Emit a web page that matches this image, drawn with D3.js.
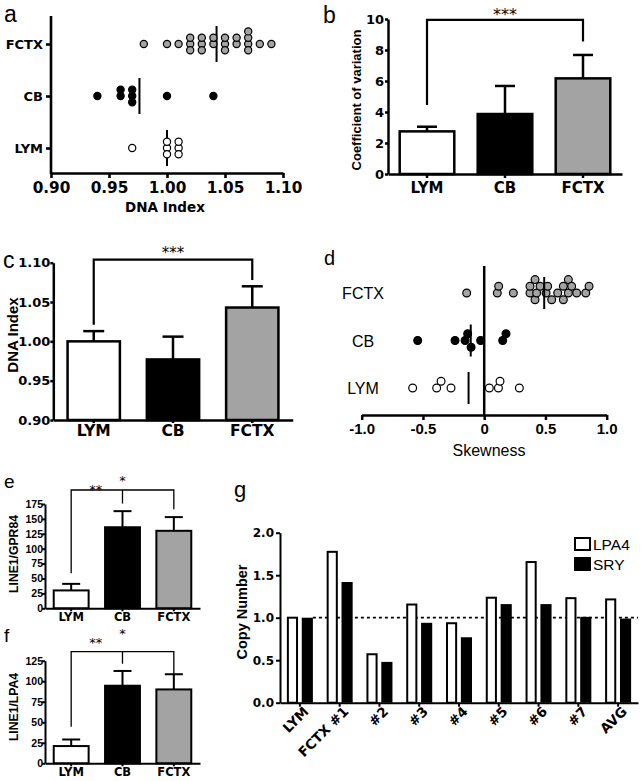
<!DOCTYPE html>
<html><head><meta charset="utf-8">
<script src="https://cdn.jsdelivr.net/npm/d3@7"></script>
<style>
body{margin:0;background:#fff}
svg{display:block}
</style></head><body>
<svg id="fig" width="642" height="781"></svg>
<script>
// ================= DATA =================
const groups = ["LYM", "CB", "FCTX"];
const groupFill = ["#ffffff", "#000000", "#a3a3a3"];

// a: DNA index per sample
const dnaIndexLYM = [0.97, 1.00, 1.00, 1.00, 1.01, 1.01, 1.01];
const dnaIndexCB = [0.94, 0.96, 0.96, 0.97, 0.97, 0.97, 1.00, 1.04];
const dnaIndexFCTX = [0.98, 1.00, 1.01, 1.02, 1.02, 1.02, 1.03, 1.03, 1.03, 1.04, 1.04,
  1.05, 1.05, 1.05, 1.06, 1.06, 1.07, 1.07, 1.07, 1.07, 1.08, 1.09];
const dnaTicks = [0.90, 0.95, 1.00, 1.05, 1.10];

// b: coefficient of variation (mean, upper error)
const cvMean = [2.75, 3.87, 6.17];
const cvUpper = [3.05, 5.68, 7.68];
const cvTicks = [0, 2, 4, 6, 8, 10];
const cvBracket = [9.95, 4.45, 8.55]; // top, left end, right end

// c: DNA index (mean, upper error)
const diMean = [1.000, 0.977, 1.043];
const diUpper = [1.013, 1.006, 1.070];
const diTicks = [0.90, 0.95, 1.00, 1.05, 1.10];
const diBracket = [1.104, 1.021, 1.078];

// d: skewness per sample
const skewLYM = [-0.584, -0.388, -0.352, -0.271, 0.042, 0.116, 0.129, 0.287];
const skewCB = [-0.543, -0.238, -0.156, -0.135, -0.107, -0.029, 0.151, 0.178];
const skewFCTX = [-0.143, 0.107, 0.118, 0.238, 0.374, 0.374, 0.415, 0.415, 0.428, 0.456, 0.505,
  0.518, 0.551, 0.600, 0.646, 0.646, 0.687, 0.687, 0.714, 0.755, 0.829, 0.856];
const skewTicks = [-1, -0.5, 0, 0.5, 1];

// e: LINE1/GPR84
const gprMean = [30, 136, 130];
const gprUpper = [41, 163, 153];
const gprTicks = [0, 25, 50, 75, 100, 125, 150, 175];
const gprBracket = [198.5, 58.7, 176, 166]; // top, left end, mid end, right end
const gprStars = [205, 220];

// f: LINE1/LPA4
const lpaMean = [21, 94.5, 90];
const lpaUpper = [29, 112.5, 108.5];
const lpaTicks = [0, 25, 50, 75, 100, 125];
const lpaBracket = [136, 44.6, 121.4, 108.8];
const lpaStars = [151, 162];

// g: copy number
const cnCategories = ["LYM", "FCTX #1", "#2", "#3", "#4", "#5", "#6", "#7", "AVG"];
const cnSeries = ["LPA4", "SRY"];
const cnLPA4 = [1.00, 1.775, 0.57, 1.155, 0.935, 1.235, 1.655, 1.23, 1.215];
const cnSRY = [1.00, 1.42, 0.48, 0.94, 0.77, 1.16, 1.16, 1.01, 0.99];
const cnTicks = [0, 0.5, 1.0, 1.5, 2.0];

// ================= DRAWING =================
const svg = d3.select("#fig");
const WIDE = "'DejaVu Sans', sans-serif";
const ARIAL = "'Liberation Sans', Arial, sans-serif";

function styleAxis(g, font, size, weight, sw) {
  g.attr("font-family", null).attr("font-size", null);
  g.select(".domain").attr("stroke", "#000").attr("stroke-width", sw);
  g.selectAll(".tick line").attr("stroke", "#000").attr("stroke-width", sw);
  g.selectAll(".tick text").attr("fill", "#000")
    .style("font-family", font).style("font-size", size + "px").style("font-weight", weight);
  return g;
}
function text(x, y, t, font, size, weight, anchor, rot) {
  const el = svg.append("text").attr("x", x).attr("y", y).text(t)
    .style("font-family", font).style("font-size", size + "px").style("font-weight", weight || "normal")
    .attr("text-anchor", anchor || "start").attr("fill", "#000");
  if (rot) el.attr("transform", `rotate(${rot},${x},${y})`);
  return el;
}
function line(x1, y1, x2, y2, sw, dash) {
  const l = svg.append("line").attr("x1", x1).attr("y1", y1).attr("x2", x2).attr("y2", y2)
    .attr("stroke", "#000").attr("stroke-width", sw);
  if (dash) l.attr("stroke-dasharray", dash);
  return l;
}
function swarm(values, xs, r, step, tol) {
  const placed = [];
  return values.map(v => {
    const px = xs(v);
    for (let k = 0; k < 50; k++) {
      const off = (k === 0 ? 0 : (k % 2 ? -Math.ceil(k / 2) : k / 2)) * step;
      if (!placed.some(p => Math.abs(p.x - px) < tol && Math.abs(p.y - off) < step * 0.5)) {
        placed.push({ x: px, y: off });
        return { v, x: px, dy: off };
      }
    }
  });
}
function barPanel(o) {
  const xs = d3.scaleBand().domain(groups).range(o.xr).paddingInner(o.pi).paddingOuter(o.po);
  const ys = d3.scaleLinear().domain(o.dom).range(o.yr);
  const base = o.yr[0];
  groups.forEach((g, i) => {
    const cx = xs(g) + xs.bandwidth() / 2;
    line(cx, ys(o.mean[i]), cx, ys(o.upper[i]), o.sw);
    line(cx - o.cap / 2, ys(o.upper[i]), cx + o.cap / 2, ys(o.upper[i]), o.sw);
  });
  svg.append("g").selectAll("rect").data(groups).join("rect")
    .attr("x", g => xs(g)).attr("width", xs.bandwidth())
    .attr("y", (g, i) => ys(o.mean[i])).attr("height", (g, i) => base - ys(o.mean[i]))
    .attr("fill", (g, i) => groupFill[i]).attr("stroke", "#000").attr("stroke-width", o.sw);
  const gy = svg.append("g").attr("transform", `translate(${o.xr[0]},0)`)
    .call(d3.axisLeft(ys).tickValues(o.ticks).tickFormat(o.fmt).tickSize(o.ytick[0]).tickPadding(o.ytick[1]).tickSizeOuter(0));
  styleAxis(gy, o.yfont[0], o.yfont[1], o.yfont[2], o.sw);
  const gx = svg.append("g").attr("transform", `translate(0,${base})`)
    .call(d3.axisBottom(xs).tickSize(o.xtick[0]).tickPadding(o.xtick[1]).tickSizeOuter(0));
  styleAxis(gx, WIDE, o.xfont, "bold", o.sw);
  return { xs, ys, c: g => xs(g) + xs.bandwidth() / 2 };
}

// ---------- panel a ----------
{
  const xs = d3.scaleLinear().domain([0.90, 1.10]).range([51, 283]);
  const ys = d3.scalePoint().domain(groups).range([148, 44]);
  const sets = [dnaIndexLYM, dnaIndexCB, dnaIndexFCTX];
  groups.forEach((g, i) => {
    const m = d3.mean(sets[i]);
    line(xs(m), ys(g) - 18, xs(m), ys(g) + 18, 2);
  });
  groups.forEach((g, i) => {
    const pts = swarm(sets[i], xs, 4, 6.3, 7);
    svg.append("g").selectAll("circle").data(pts).join("circle")
      .attr("cx", d => d.x).attr("cy", d => ys(g) + d.dy).attr("r", 3.6)
      .attr("fill", groupFill[i]).attr("stroke", "#000").attr("stroke-width", 1.2);
  });
  const gx = svg.append("g").attr("transform", "translate(0,173)")
    .call(d3.axisBottom(xs).tickValues(dnaTicks).tickFormat(d3.format(".2f")).tickSize(5).tickPadding(4).tickSizeOuter(0));
  styleAxis(gx, WIDE, 15.3, "bold", 2.6);
  const gy = svg.append("g").attr("transform", "translate(51,0)")
    .call(d3.axisLeft(ys).tickSize(5).tickPadding(3).tickSizeOuter(0));
  styleAxis(gy, WIDE, 13, "bold", 2.6);
  gy.select(".domain").remove();
  line(51, 16, 51, 174, 2.6);
  text(165, 212, "DNA Index", WIDE, 13.5, "bold", "middle");
  text(4, 22, "a", ARIAL, 23);
}

// ---------- panel b ----------
{
  const p = barPanel({ xr: [388, 622], yr: [174, 19], dom: [0, 10], pi: 0.3, po: 0.15,
    mean: cvMean, upper: cvUpper, ticks: cvTicks, fmt: d3.format("d"), cap: 20, sw: 2.5,
    ytick: [3, 1], yfont: [WIDE, 13, "bold"], xtick: [4, 4], xfont: 15 });
  const [top, le, re] = cvBracket;
  svg.append("path").attr("fill", "none").attr("stroke", "#000").attr("stroke-width", 2.2)
    .attr("d", `M${p.c("LYM")},${p.ys(le)}V${p.ys(top)}H${p.c("FCTX")}V${p.ys(re)}`);
  text((p.c("LYM") + p.c("FCTX")) / 2, p.ys(top) + 0.5, "***", WIDE, 16, "normal", "middle");
  text(361, 100, "Coefficient of variation", ARIAL, 13, "bold", "middle", -90);
  text(323, 23, "b", ARIAL, 23);
}

// ---------- panel c ----------
{
  const p = barPanel({ xr: [53.3, 292.7], yr: [420, 262.7], dom: [0.9, 1.1], pi: 0.34, po: 0.18,
    mean: diMean, upper: diUpper, ticks: diTicks, fmt: d3.format(".2f"), cap: 21, sw: 2.5,
    ytick: [3, 0], yfont: [WIDE, 13, "bold"], xtick: [3, 2], xfont: 15.5 });
  const [top, le, re] = diBracket;
  svg.append("path").attr("fill", "none").attr("stroke", "#000").attr("stroke-width", 2.2)
    .attr("d", `M${p.c("LYM")},${p.ys(le)}V${p.ys(top)}H${p.c("FCTX")}V${p.ys(re)}`);
  text((p.c("LYM") + p.c("FCTX")) / 2, p.ys(top) - 2, "***", WIDE, 15, "normal", "middle");
  text(18, 335, "DNA Index", ARIAL, 15, "bold", "middle", -90);
  text(3, 268, "c", ARIAL, 23);
}

// ---------- panel d ----------
{
  const xs = d3.scaleLinear().domain([-1, 1]).range([361.7, 606.7]);
  const ys = d3.scalePoint().domain(groups).range([388, 293]);
  const sets = [skewLYM, skewCB, skewFCTX];
  line(xs(0), 266, xs(0), 415, 2.5);
  groups.forEach((g, i) => {
    const pts = swarm(sets[i], xs, 4.3, 6.7, 6.2);
    svg.append("g").selectAll("circle").data(pts).join("circle")
      .attr("cx", d => d.x).attr("cy", d => ys(g) + d.dy).attr("r", 3.9)
      .attr("fill", groupFill[i]).attr("stroke", "#000").attr("stroke-width", 1.2);
  });
  groups.forEach((g, i) => {
    const m = d3.mean(sets[i]);
    line(xs(m), ys(g) - 16, xs(m), ys(g) + 16, 2);
    text(363, ys(g) + 6, g, ARIAL, 16, "normal", "middle");
  });
  const gx = svg.append("g").attr("transform", "translate(0,415)")
    .call(d3.axisBottom(xs).tickValues(skewTicks).tickFormat(d => d === 0 ? "0" : d.toFixed(1)).tickSize(5).tickPadding(3).tickSizeOuter(0));
  styleAxis(gx, ARIAL, 15, "bold", 2.5);
  text(489, 456, "Skewness", ARIAL, 16, "normal", "middle");
  text(324, 265, "d", ARIAL, 20);
}

// ---------- panel e & f ----------
function smallPanel(mean, upper, ticks, dom, yr, bracket, stars, ylabel, ylabelY, letter, letterY) {
  const p = barPanel({ xr: [45, 200], yr: yr, dom: dom, pi: 0.32, po: 0.17,
    mean: mean, upper: upper, ticks: ticks, fmt: d3.format("d"), cap: 18, sw: 2,
    ytick: [3, -1], yfont: [ARIAL, 10.5, "bold"], xtick: [3, 1.5], xfont: 11.5 });
  const [top, le, me, re] = bracket;
  svg.append("path").attr("fill", "none").attr("stroke", "#000").attr("stroke-width", 1.3)
    .attr("d", `M${p.c("LYM")},${p.ys(le)}V${p.ys(top)}H${p.c("FCTX")}V${p.ys(re)}M${p.c("CB")},${p.ys(top)}V${p.ys(me)}`);
  text((p.c("LYM") + p.c("CB")) / 2 - 1, p.ys(stars[0]) + 7.5, "**", WIDE, 13, "normal", "middle");
  text(p.c("CB"), p.ys(stars[1]) + 7.5, "*", WIDE, 13, "normal", "middle");
  text(18, ylabelY, ylabel, ARIAL, 12.2, "bold", "middle", -90);
  text(4, letterY, letter, ARIAL, 19);
}
smallPanel(gprMean, gprUpper, gprTicks, [0, 175], [608.3, 504], gprBracket, gprStars, "LINE1/GPR84", 554, "e", 488);
smallPanel(lpaMean, lpaUpper, lpaTicks, [0, 125], [763.3, 660.7], lpaBracket, lpaStars, "LINE1/LPA4", 707, "f", 642);

// ---------- panel g ----------
{
  const xs = d3.scaleBand().domain(cnCategories).range([280, 638]);
  const sub = d3.scaleBand().domain(cnSeries).range([-13, 13]).paddingInner(0.25);
  const ys = d3.scaleLinear().domain([0, 2]).range([702.7, 532.7]);
  const cx = c => xs(c) + xs.bandwidth() / 2;
  line(cx(cnCategories[0]) + sub("SRY") + sub.bandwidth(), ys(1), 638, ys(1), 1.8, "3,3");
  svg.append("g").selectAll("rect").data(cnCategories).join("rect")
    .attr("x", c => cx(c) + sub("LPA4") + 1).attr("width", sub.bandwidth() - 2)
    .attr("y", (c, i) => ys(cnLPA4[i])).attr("height", (c, i) => ys(0) - ys(cnLPA4[i]))
    .attr("fill", "#fff").attr("stroke", "#000").attr("stroke-width", 2);
  svg.append("g").selectAll("rect").data(cnCategories).join("rect")
    .attr("x", c => cx(c) + sub("SRY")).attr("width", sub.bandwidth())
    .attr("y", (c, i) => ys(cnSRY[i])).attr("height", (c, i) => ys(0) - ys(cnSRY[i]))
    .attr("fill", "#000");
  const gy = svg.append("g").attr("transform", "translate(280,0)")
    .call(d3.axisLeft(ys).tickValues(cnTicks).tickFormat(d3.format(".1f")).tickSize(4).tickPadding(2).tickSizeOuter(0));
  styleAxis(gy, WIDE, 12, "bold", 2);
  const gx = svg.append("g").attr("transform", `translate(0,${ys(0)})`)
    .call(d3.axisBottom(xs).tickSize(4).tickSizeOuter(0));
  styleAxis(gx, WIDE, 13.5, "bold", 2);
  gx.selectAll(".tick text").attr("x", 0).attr("y", 9).attr("dy", "0.35em")
    .attr("transform", "rotate(-45)").style("text-anchor", "end");
  // legend
  const lx = 574;
  svg.append("rect").attr("x", lx + 1).attr("y", 538).attr("width", 15).attr("height", 12)
    .attr("fill", "#fff").attr("stroke", "#000").attr("stroke-width", 2);
  svg.append("rect").attr("x", lx).attr("y", 557).attr("width", 17).attr("height", 14).attr("fill", "#000");
  text(lx + 19, 550, cnSeries[0], ARIAL, 15.5);
  text(lx + 19, 570, cnSeries[1], ARIAL, 15.5);
  text(247, 612, "Copy Number", ARIAL, 14.5, "bold", "middle", -90);
  text(234, 497, "g", ARIAL, 22);
}
</script>
</body></html>
